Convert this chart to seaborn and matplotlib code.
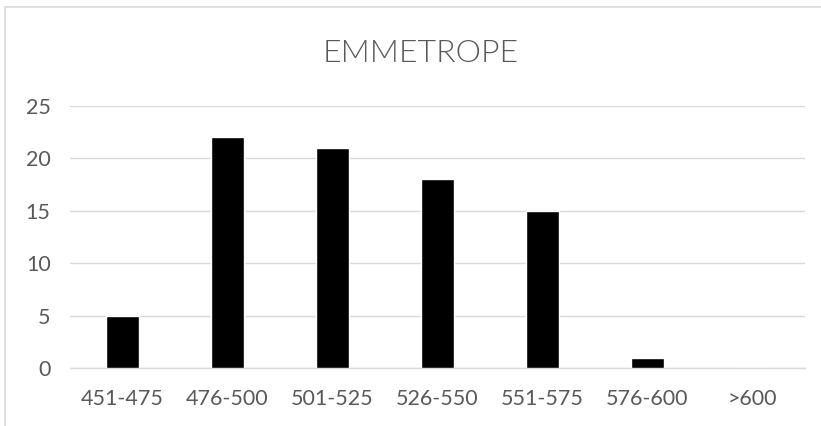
import matplotlib
matplotlib.use("Agg")
import matplotlib.pyplot as plt
import seaborn as sns
import pandas as pd
from matplotlib.lines import Line2D

categories = ["451-475", "476-500", "501-525", "526-550", "551-575", "576-600", ">600"]
counts = [5, 22, 21, 18, 15, 1, 0]
yticks = [0, 5, 10, 15, 20, 25]

sns.set_theme(style="white")
plt.rcParams["font.family"] = ["Lato", "DejaVu Sans"]

df = pd.DataFrame({"range": categories, "count": counts})

fig = plt.figure(figsize=(8.21, 4.26), dpi=100)
ax = fig.add_axes([70 / 821, 1 - 368 / 426, 735 / 821, 262 / 426])

sns.barplot(data=df, x="range", y="count", color="black", width=0.31,
            saturation=1, ax=ax, zorder=3)

ax.set_ylim(0, 25)
ax.set_xlim(-0.5, len(categories) - 0.5)
ax.set_yticks(yticks)
ax.yaxis.grid(True, color="#d9d9d9", linewidth=1, zorder=0)
ax.set_xlabel("")
ax.set_ylabel("")
for side in ["top", "right", "left"]:
    ax.spines[side].set_visible(False)
ax.spines["bottom"].set_color("#d9d9d9")
ax.spines["bottom"].set_linewidth(1)
ax.tick_params(axis="both", length=0, labelsize=15.5, labelcolor="#595959")
ax.tick_params(axis="y", pad=14)
ax.tick_params(axis="x", pad=15)

fig.text(421 / 821, 1 - 54 / 426, "EMMETROPE", ha="center", va="center",
         fontsize=23, color="#595959", fontweight=300)

# chart frame
fig.add_artist(Line2D([5 / 821, 5 / 821], [0, 1 - 7 / 426], transform=fig.transFigure,
                      color="#d9d9d9", linewidth=1.2))
fig.add_artist(Line2D([5 / 821, 1], [1 - 7 / 426, 1 - 7 / 426], transform=fig.transFigure,
                      color="#d9d9d9", linewidth=1.2))

fig.savefig("out.png", dpi=100)
